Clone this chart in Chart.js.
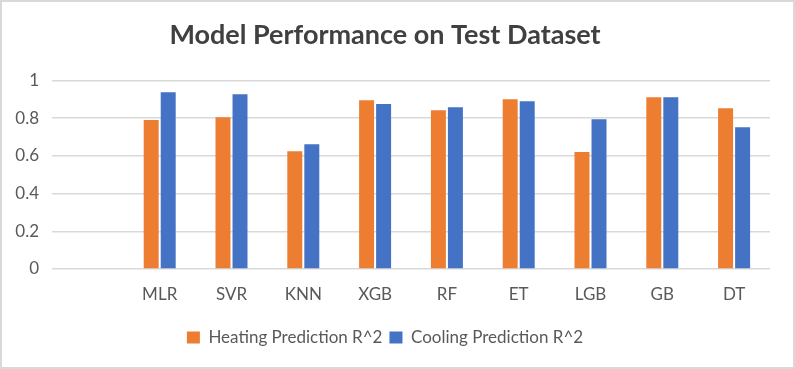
<!DOCTYPE html>
<html>
<head>
<meta charset="utf-8">
<script src="https://cdn.jsdelivr.net/npm/chart.js@4"></script>
<style>
  html, body { margin: 0; padding: 0; background: #fff; }
  .wrap { position: relative; width: 795px; height: 369px; }
  .frame { position: absolute; inset: 0; border: 2px solid #d9d9d9; box-sizing: border-box; pointer-events: none; }
  canvas { position: absolute; left: 0; top: 0; }
</style>
</head>
<body>
<div class="wrap">
  <canvas id="chart" width="795" height="369"></canvas>
  <div class="frame"></div>
</div>
<script>
// first slot is empty in the original sheet
const models = ['', 'MLR', 'SVR', 'KNN', 'XGB', 'RF', 'ET', 'LGB', 'GB', 'DT'];
const heatingR2 = [null, 0.79, 0.805, 0.625, 0.895, 0.842, 0.90, 0.62, 0.91, 0.852];
const coolingR2 = [null, 0.937, 0.926, 0.662, 0.875, 0.858, 0.889, 0.794, 0.91, 0.752];
const yTicks = [0, 0.2, 0.4, 0.6, 0.8, 1];

const FONT = 'Lato, "Open Sans", sans-serif';
const textGrey = '#595959';

new Chart(document.getElementById('chart'), {
  type: 'bar',
  data: {
    labels: models,
    datasets: [
      {
        label: 'Heating Prediction R^2',
        data: heatingR2,
        backgroundColor: '#ED7D31',
        barPercentage: 0.88,
        categoryPercentage: 0.474,
      },
      {
        label: 'Cooling Prediction R^2',
        data: coolingR2,
        backgroundColor: '#4472C4',
        barPercentage: 0.88,
        categoryPercentage: 0.474,
      }
    ]
  },
  options: {
    responsive: false,
    animation: false,
    devicePixelRatio: 1,
    layout: { padding: { top: 0, left: 0, right: 25, bottom: 13 } },
    plugins: {
      title: {
        display: true,
        text: 'Model Performance on Test Dataset',
        color: '#404040',
        font: { family: FONT, size: 27, weight: 'bold' },
        padding: { top: 19, bottom: 29 }
      },
      legend: {
        position: 'bottom',
        labels: {
          color: textGrey,
          font: { family: FONT, size: 17 },
          boxWidth: 13,
          boxHeight: 12,
          padding: 7
        }
      },
      tooltip: { enabled: false }
    },
    scales: {
      x: {
        grid: { display: false, drawTicks: false },
        border: { display: false },
        ticks: { color: textGrey, font: { family: FONT, size: 17 }, padding: 15, maxRotation: 0 },
        afterFit: s => { s.height = 53; }
      },
      y: {
        min: 0,
        max: 1,
        afterBuildTicks: s => { s.ticks = yTicks.map(v => ({ value: v })); },
        grid: { color: '#d9d9d9', lineWidth: 1.5, drawTicks: false },
        border: { display: false },
        ticks: { color: textGrey, font: { family: FONT, size: 17 }, padding: 13, callback: v => String(v) },
        afterFit: s => { s.width = 52; }
      }
    }
  }
});
</script>
</body>
</html>
